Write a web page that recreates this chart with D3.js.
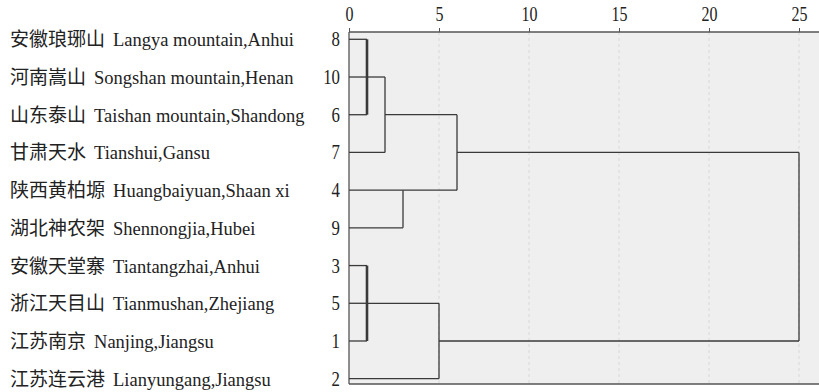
<!DOCTYPE html>
<html>
<head>
<meta charset="utf-8">
<script src="https://cdn.jsdelivr.net/npm/d3@7"></script>
<style>
  body { margin: 0; background: #fff; }
  svg { display: block; }
</style>
</head>
<body>
<div id="chart"></div>
<script>
// leaves, top to bottom, as they appear in the dendrogram
const leafIds = ["8", "10", "6", "7", "4", "9", "3", "5", "1", "2"];
const leafCn = ["安徽琅琊山", "河南嵩山", "山东泰山", "甘肃天水", "陕西黄柏塬",
  "湖北神农架", "安徽天堂寨", "浙江天目山", "江苏南京", "江苏连云港"];
const leafEn = ["Langya mountain,Anhui", "Songshan mountain,Henan", "Taishan mountain,Shandong",
  "Tianshui,Gansu", "Huangbaiyuan,Shaan xi", "Shennongjia,Hubei", "Tiantangzhai,Anhui",
  "Tianmushan,Zhejiang", "Nanjing,Jiangsu", "Lianyungang,Jiangsu"];

// merge steps (children are leaf ids or earlier merges "m<i>") and their distances
const mergeChildren = [["8", "10", "6"], ["m0", "7"], ["4", "9"], ["m1", "m2"],
  ["3", "5", "1"], ["m4", "2"], ["m3", "m5"]];
const mergeHeights = [1, 2, 3, 6, 1, 5, 25];

const axisTicks = [0, 5, 10, 15, 20, 25];

const width = 819, height = 392;
const plot = { left: 349, top: 32, right: 819, bottom: 384 };

const svg = d3.select("#chart").append("svg")
  .attr("width", width)
  .attr("height", height);

const x = d3.scaleLinear().domain([0, 25]).range([349, 799]);
const y = d3.scaleLinear().domain([0, leafIds.length - 1]).range([39.3, 378.7]);

// plot background
svg.append("rect")
  .attr("x", plot.left)
  .attr("y", plot.top)
  .attr("width", plot.right - plot.left)
  .attr("height", plot.bottom - plot.top)
  .attr("fill", "#efefef");

// dashed grid lines
svg.selectAll(".grid")
  .data(axisTicks.filter(d => d > 0))
  .enter()
  .append("line")
  .attr("class", "grid")
  .attr("x1", d => x(d))
  .attr("x2", d => x(d))
  .attr("y1", plot.top)
  .attr("y2", plot.bottom)
  .attr("stroke", "#d8d8d8")
  .attr("stroke-dasharray", "3,3");

// top axis
const axis = svg.append("g")
  .attr("transform", "translate(0," + plot.top + ")")
  .call(d3.axisTop(x).tickValues(axisTicks).tickSize(4).tickPadding(7).tickFormat(d3.format("d")));
axis.select(".domain").remove();
axis.selectAll("line").attr("stroke", "#555");
axis.selectAll("text")
  .attr("fill", "#222")
  .attr("transform", "scale(0.8,1)")
  .style("font-family", "'Liberation Serif', serif")
  .style("font-size", "20px");

// plot frame lines (top, left, bottom)
const frame = [
  [plot.left, plot.top, plot.right, plot.top],
  [plot.left, plot.top, plot.left, plot.bottom],
  [plot.left, plot.bottom, plot.right, plot.bottom]
];
svg.selectAll(".frame")
  .data(frame)
  .enter()
  .append("line")
  .attr("class", "frame")
  .attr("x1", d => d[0]).attr("y1", d => d[1])
  .attr("x2", d => d[2]).attr("y2", d => d[3])
  .attr("stroke", "#555")
  .attr("stroke-width", 1.3);

// dendrogram links
const nodes = {};
leafIds.forEach((id, i) => { nodes[id] = { h: 0, yi: i }; });

const links = svg.append("g")
  .attr("fill", "none")
  .attr("stroke", "#3a3a3a");

mergeChildren.forEach((kids, i) => {
  const h = mergeHeights[i];
  const ks = kids.map(k => nodes[k]);
  const minY = d3.min(ks, k => k.yi);
  const maxY = d3.max(ks, k => k.yi);

  ks.forEach(k => {
    links.append("line")
      .attr("x1", x(k.h)).attr("x2", x(h))
      .attr("y1", y(k.yi)).attr("y2", y(k.yi))
      .attr("stroke-width", 1.3);
  });

  links.append("line")
    .attr("x1", x(h)).attr("x2", x(h))
    .attr("y1", y(minY)).attr("y2", y(maxY))
    .attr("stroke-width", kids.length > 2 ? 2.6 : 1.3);

  nodes["m" + i] = { h: h, yi: Math.floor((minY + maxY) / 2) };
});

// case numbers next to the axis
svg.selectAll(".case")
  .data(leafIds)
  .enter()
  .append("text")
  .attr("class", "case")
  .attr("transform", (d, i) => "translate(340," + (y(i) + 7) + ") scale(0.8,1)")
  .attr("text-anchor", "end")
  .attr("fill", "#222")
  .style("font-family", "'Liberation Serif', serif")
  .style("font-size", "21px")
  .text(d => d);

// site names
const names = svg.selectAll(".name")
  .data(leafIds)
  .enter()
  .append("text")
  .attr("class", "name")
  .attr("x", 10)
  .attr("y", (d, i) => y(i) + 7)
  .attr("fill", "#222");

names.append("tspan")
  .style("font-family", "'Noto Sans CJK SC', sans-serif")
  .style("font-size", "19px")
  .text((d, i) => leafCn[i]);

names.append("tspan")
  .attr("dx", 8)
  .style("font-family", "'Liberation Serif', serif")
  .style("font-size", "18.5px")
  .text((d, i) => leafEn[i]);
</script>
</body>
</html>
